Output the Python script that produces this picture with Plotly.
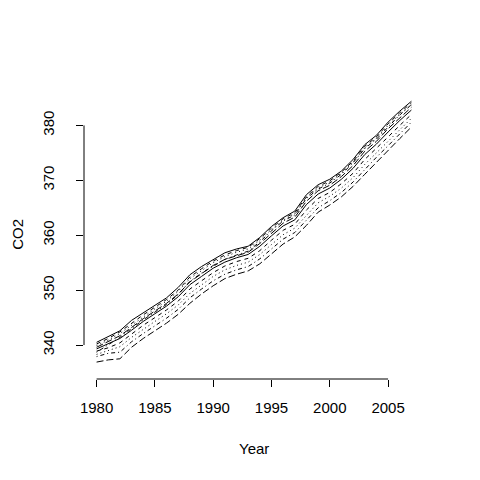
import plotly.graph_objects as go

years = list(range(1980, 2008))

s1 = [340.5, 341.6, 342.6, 344.5, 345.9, 347.3, 348.6, 350.5, 352.8, 354.3, 355.6, 356.8, 357.5, 358.0, 359.6, 361.6, 363.2, 364.4, 367.4, 369.2, 370.2, 371.7, 373.8, 376.5, 378.2, 380.6, 382.6, 384.4]
s2 = [340.2, 341.2, 342.4, 344.0, 345.5, 346.9, 348.3, 350.0, 352.4, 353.9, 355.3, 356.4, 357.2, 357.8, 359.4, 361.3, 363.0, 364.1, 367.0, 368.9, 369.9, 371.5, 373.5, 376.2, 377.9, 380.3, 382.3, 384.1]
s3 = [339.9, 340.9, 342.1, 343.6, 345.2, 346.6, 348.0, 349.8, 352.1, 353.6, 355.0, 356.1, 356.9, 357.5, 359.1, 361.0, 362.7, 363.9, 366.9, 368.6, 369.7, 371.3, 373.3, 375.9, 377.7, 380.0, 382.0, 383.7]
s4 = [338.7, 340.1, 341.4, 343.0, 344.6, 346.0, 347.4, 349.2, 351.6, 353.1, 354.4, 355.6, 356.4, 357.1, 358.8, 360.8, 362.6, 363.7, 366.7, 368.4, 369.5, 371.1, 373.2, 375.8, 377.5, 379.8, 381.9, 383.8]
s5 = [339.6, 340.6, 341.7, 343.2, 344.8, 346.2, 347.6, 349.3, 351.5, 353.0, 354.5, 355.6, 356.3, 356.9, 358.5, 360.4, 362.2, 363.3, 366.2, 368.1, 369.1, 370.7, 372.7, 375.3, 377.1, 379.4, 381.4, 383.3]
s6 = [339.3, 340.2, 341.2, 342.7, 344.3, 345.7, 347.1, 348.8, 351.0, 352.5, 354.0, 355.1, 355.9, 356.5, 358.0, 359.9, 361.7, 362.8, 365.6, 367.5, 368.6, 370.2, 372.2, 374.7, 376.6, 378.8, 380.9, 382.8]
s7 = [338.9, 339.5, 340.4, 342.0, 343.6, 345.0, 346.4, 348.0, 350.2, 351.7, 353.2, 354.4, 355.2, 355.8, 357.2, 359.1, 360.9, 362.0, 364.6, 366.7, 367.8, 369.4, 371.3, 373.8, 375.8, 377.9, 380.0, 382.0]
s8 = [338.3, 339.0, 339.7, 341.4, 342.9, 344.3, 345.7, 347.3, 349.4, 351.0, 352.5, 353.7, 354.5, 355.1, 356.5, 358.3, 360.1, 361.3, 363.7, 365.9, 367.1, 368.6, 370.5, 372.9, 375.0, 377.1, 379.3, 381.3]
s9 = [337.9, 338.5, 338.7, 340.6, 342.1, 343.5, 344.9, 346.5, 348.6, 350.2, 351.7, 352.9, 353.7, 354.3, 355.7, 357.5, 359.3, 360.5, 362.8, 365.0, 366.3, 367.8, 369.7, 372.0, 374.2, 376.3, 378.5, 380.6]
s10 = [336.9, 337.3, 337.5, 339.6, 341.2, 342.6, 344.0, 345.6, 347.6, 349.3, 350.8, 352.1, 352.9, 353.5, 354.8, 356.6, 358.4, 359.7, 361.8, 364.2, 365.5, 367.0, 368.9, 371.1, 373.3, 375.4, 377.6, 379.7]

series = [s1, s2, s3, s4, s5, s6, s7, s8, s9, s10]
x_ticks = [1980, 1985, 1990, 1995, 2000, 2005]
y_ticks = [340, 350, 360, 370, 380]

# R lty 1:5 cycle
dashes = ["solid", "4px,4px", "1px,3px", "1px,3px,4px,3px", "7px,3px"]

fig = go.Figure()
for i, s in enumerate(series):
    fig.add_trace(go.Scatter(x=years, y=s, mode="lines",
                             line=dict(color="black", width=1, dash=dashes[i % 5]),
                             showlegend=False, hoverinfo="skip"))

font = dict(family="Liberation Sans, Arial, sans-serif", size=15, color="black")

fig.update_layout(
    width=480, height=480,
    margin=dict(l=76, r=64, t=82, b=109),
    paper_bgcolor="white", plot_bgcolor="white",
    font=font,
    xaxis=dict(range=[1978.92, 2008.08], tickvals=x_ticks, ticks="outside", ticklen=7,
               tickcolor="black", tickwidth=1, showgrid=False, zeroline=False,
               showline=False, ticklabelstandoff=8, automargin=False),
    yaxis=dict(range=[333.82, 386.45], tickvals=y_ticks, ticks="outside", ticklen=7,
               tickcolor="black", tickwidth=1, showgrid=False, zeroline=False,
               showline=False, tickangle=-90, ticklabelstandoff=16, automargin=False),
    shapes=[
        dict(type="line", xref="x", yref="paper", x0=x_ticks[0], x1=x_ticks[-1], y0=0, y1=0,
             line=dict(color="black", width=1)),
        dict(type="line", xref="paper", yref="y", x0=0, x1=0, y0=y_ticks[0], y1=y_ticks[-1],
             line=dict(color="black", width=1)),
    ],
    annotations=[
        dict(text="Year", xref="paper", yref="paper", x=0.5, y=-0.24,
             xanchor="center", yanchor="middle", showarrow=False, font=font),
        dict(text="CO2", xref="paper", yref="paper", x=-0.196, y=0.5, textangle=-90,
             xanchor="center", yanchor="middle", showarrow=False, font=font),
    ],
)

fig.write_html("out.html")
